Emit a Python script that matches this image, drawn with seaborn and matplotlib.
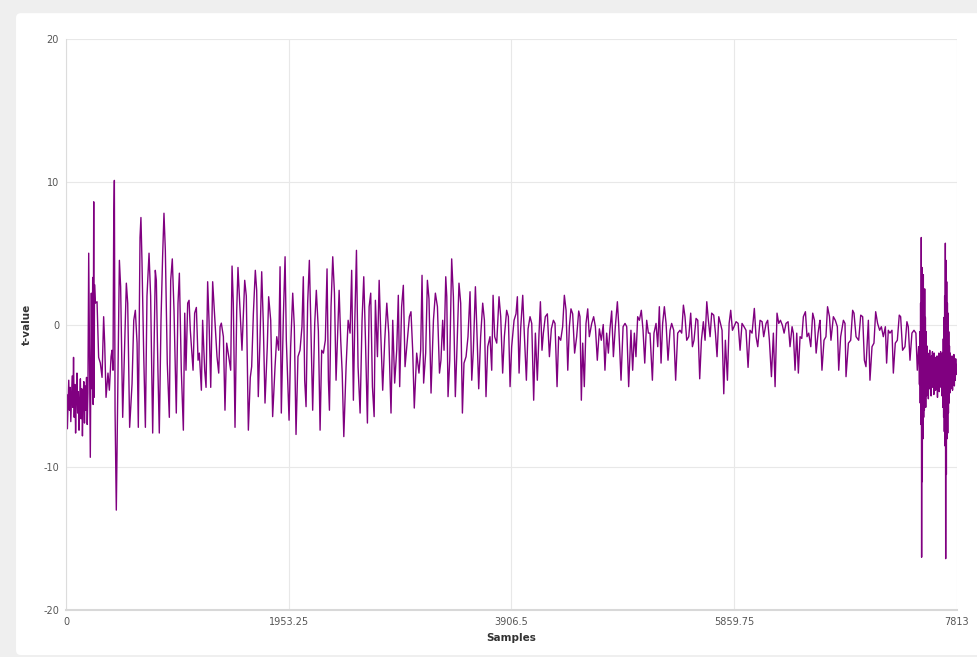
import numpy as np
import pandas as pd
import matplotlib
matplotlib.use("Agg")
import matplotlib.pyplot as plt
from matplotlib.patches import FancyBboxPatch
import seaborn as sns

# values, sample index -> t-value
onset_x = [0, 6, 12, 18, 24, 30, 36, 42, 48, 54, 60, 66, 72, 78, 84, 90, 96, 102, 108, 114,
           120, 126, 132, 138, 144, 150, 156, 162, 168, 174, 180, 186, 192,
           199, 213, 222, 228, 234, 238, 243, 246, 250, 257, 272, 286, 301, 316, 330, 339, 351,
           368, 380, 395, 403, 412, 418, 424, 430, 441, 447, 456, 468, 479, 497, 508, 529, 541,
           558, 579, 594, 608, 623, 634, 649, 657, 666, 681, 696, 710, 728, 742, 760, 783, 792,
           806, 818, 833, 847, 859, 871, 888, 906, 918, 932, 947, 967, 982, 994, 1011, 1029,
           1041, 1052, 1067, 1079, 1090, 1114, 1128, 1143, 1158, 1169, 1187, 1198, 1216, 1228,
           1242, 1254, 1269, 1286, 1304, 1324, 1339, 1351, 1362, 1380, 1394, 1409, 1427, 1444,
           1456, 1467, 1482, 1497, 1508, 1526, 1543, 1567, 1581, 1599, 1616]
onset_y = [-6.2, -4.9, -7.3, -5.5, -3.9, -6.0, -4.4, -6.8, -5.1, -3.6, -5.8, -2.3, -6.5, -4.2,
           -7.6, -5.0, -3.4, -6.2, -4.7, -7.4, -5.4, -3.8, -6.6, -4.5, -7.8, -5.2, -4.0, -6.9,
           -4.3, -6.0, -3.7, -7.0, -4.8,
           5.0, -9.3, 2.2, -4.5, 3.3, -5.6, 8.6, -5.1, 2.8, 1.5, 1.6, -2.3, -2.7, -3.7, 0.55,
           -1.3, -5.1, -3.4, -4.6, -2.25, -1.8, -3.2, 6.6, 10.1, -6.0, -13.0, -9.0, -3.2, 4.5,
           2.65, -6.5, -3.2, 2.9, 1.5, -7.2, -4.15, 0.3, 1.0, -1.3, -7.2, 6.1, 7.5, 4.5, -2.0,
           -7.2, 2.0, 5.0, 2.0, -7.6, 3.8, 3.1, -3.2, -7.6, 0.3, 4.75, 7.8, 5.2, -2.7, -6.5,
           3.1, 4.6, 1.0, -6.2, 1.5, 3.6, -3.2, -7.4, 0.8, -3.2, 1.5, 1.7, -0.4, -3.2, 0.8,
           1.2, -2.5, -2.0, -4.6, 0.3, -3.2, -4.4, 3.0, 0.3, -4.4, 3.0, 0.55, -2.25, -3.4,
           -0.15, 0.1, -0.85, -6.0, -1.3, -2.25, -3.2, 4.1, 1.5, -7.2, 1.0, 4.0, 1.0, -1.8,
           3.1, 2.0, -7.4, -3.7]

middle_x = [1628, 1643, 1660, 1672, 1686, 1701, 1716, 1730, 1745, 1765, 1777, 1795, 1812, 1833,
            1848, 1865, 1877, 1888, 1906, 1921, 1932, 1944, 1956, 1970, 1988, 2002, 2017, 2034,
            2052, 2069, 2081, 2093, 2105, 2119, 2134, 2146, 2163, 2181, 2195, 2213, 2228, 2242,
            2257, 2274, 2289, 2301, 2310, 2324, 2339, 2354, 2368, 2383, 2395, 2409, 2422, 2436,
            2456, 2474, 2491, 2505, 2520, 2532, 2547, 2561, 2579, 2596, 2611, 2626, 2643, 2658,
            2672, 2687, 2702, 2713, 2731, 2746, 2760, 2777, 2795, 2813, 2830, 2850, 2865, 2882,
            2900, 2914, 2926, 2943, 2958, 2973, 2993, 3011, 3025, 3040, 3054, 3075, 3095, 3110,
            3122, 3136, 3154, 3169, 3183, 3201, 3222, 3239, 3257, 3275,
            3288, 3303, 3315, 3330, 3339, 3350, 3365, 3382, 3397, 3414, 3426, 3446, 3461, 3476,
            3490, 3508, 3525, 3543, 3558, 3572, 3590, 3601, 3619, 3636, 3654, 3669, 3683, 3698,
            3718, 3733, 3745, 3759, 3777, 3797, 3812, 3829, 3844, 3864, 3879, 3894, 3908, 3929,
            3946, 3958, 3973, 3987, 4005, 4020, 4037, 4052, 4069, 4084, 4101, 4116, 4133, 4148,
            4160, 4174, 4186, 4203, 4221, 4239, 4256, 4274, 4288, 4306, 4320, 4338, 4355, 4370,
            4385, 4400, 4414, 4428, 4443, 4460, 4478, 4496, 4507, 4519, 4531, 4545, 4560, 4575,
            4589, 4610, 4627, 4642, 4659, 4677, 4694, 4711, 4726, 4741, 4756, 4770, 4785, 4800,
            4817, 4835, 4846, 4867, 4885, 4902, 4917, 4934,
            4954, 4969, 4984, 4998, 5013, 5028, 5045, 5060, 5075, 5092, 5107, 5121, 5142, 5156,
            5174, 5189, 5203, 5218, 5232, 5247, 5262, 5279, 5297, 5311, 5329, 5346, 5364, 5384,
            5399, 5414, 5428, 5443, 5461, 5478, 5493, 5507, 5525, 5540, 5557, 5572, 5589, 5604,
            5619, 5633, 5648, 5662, 5680, 5695, 5709, 5724, 5739, 5753, 5768, 5782, 5800, 5815,
            5829, 5844, 5858, 5876, 5894, 5911, 5928, 5946, 5963, 5981, 5998, 6016, 6036, 6051,
            6066, 6086, 6104, 6118, 6139, 6153, 6168, 6186, 6203, 6218, 6235, 6250, 6265, 6282,
            6297, 6314, 6332, 6349, 6367, 6378, 6393, 6408, 6422, 6437, 6452, 6466, 6484, 6498,
            6513, 6531, 6548, 6563, 6578, 6595, 6607]
middle_y = [-2.95, 0.78, 3.8, 2.4, -5.05, -1.1, 3.7, 0.08, -5.5, -1.55, 1.95, 0.3, -6.45, -2.95,
            -0.85, -1.8, 4.05, -6.2, 0.55, 4.75, -1.1, -3.9, -6.7, -1.55, 2.2, -0.15, -7.7,
            -2.25, -1.8, -0.15, 3.35, -3.9, -5.75, 1.5, 4.5, 0.3, -6.0, 0.08, 2.4, -0.45, -7.4,
            -1.8, -2.0, -1.1, 3.9, -3.9, -6.0, 1.25, 4.75, 2.2, -3.9, -0.45, 2.4, -1.1, -3.4,
            -7.85, -2.95, 0.3, -0.6, 3.8, -5.3, 0.08, 5.2, -2.95, -6.2, 0.3, 3.35, -1.1, -6.9,
            1.25, 2.2, -4.35, -6.45, 1.7, -2.25, 3.1, -0.6, -4.6, -1.1, 1.5, -0.6, -6.2, 0.3,
            -4.1, -1.8, 2.05, -4.35, 1.25, 2.75, -2.95, -1.1, 0.55, 0.9, -1.8, -5.85, -2.0,
            -3.4, -1.8, 3.45, -4.1, -2.0, 3.1, 1.8, -4.8, 0.3, 2.2, 1.25, -3.4,
            -2.5, 0.3, -1.8, 3.35, 1.95, -5.05, -2.5, 4.6, 1.95, -5.05, -2.25, 2.9, 1.5, -6.2,
            -2.7, -2.25, -0.85, 2.3, -3.9, -1.8, 2.65, 0.08, -4.5, -0.85, 1.5, 0.3, -5.05,
            -1.55, -0.85, -3.2, 2.05, -0.85, -1.3, 1.95, 0.55, -3.4, -0.85, 1.0, 0.55, -4.35,
            -1.55, 0.3, 0.75, 1.95, -3.4, -0.3, 2.05, -0.85, -3.9, -0.3, 0.55, 0.08, -5.3, -0.6,
            -3.9, -0.6, 1.6, -1.8, -0.6, 0.55, 0.75, -2.25, -0.3, 0.3, 0.08, -4.35, -0.85, -1.1,
            -0.15, 2.05, 1.0, -3.2, -0.15, 1.1, 0.75, -2.0, -0.85, 0.95, 0.55, -5.3, -1.3,
            -4.35, 0.08, 1.1, -0.85, 0.08, 0.55, -0.15, -2.5, -0.3, -1.1, 0.0, -3.2, -0.6, -2.0,
            -0.3, 0.95, -2.25, -0.15, 1.6, 0.08, -3.9, -0.15, 0.08, -0.15, -4.35,
            -0.4, -3.2, -0.6, -2.25, 0.55, 0.3, 1.0, -0.4, -2.7, 0.3, -0.6, -0.6, -3.9, -0.6,
            0.08, -1.55, 1.25, -2.7, 0.08, 1.25, 0.08, -2.5, -0.4, 0.08, -0.4, -3.9, -0.6, -0.4,
            -0.6, 1.36, 0.55, -1.1, -0.85, 0.8, -1.55, -1.1, 0.43, 0.3, -3.8, -1.1, 0.2, -1.1,
            1.6, 0.3, -0.85, 0.8, 0.66, -0.6, -2.25, 0.55, 0.08, -0.4, -4.85, -1.1, -3.9, 0.08,
            1.0, -0.4, -0.15, 0.2, 0.08, -1.8, 0.08, -0.15, -0.4, -3.0, -0.4, -0.6, 1.13, -0.85,
            -1.55, 0.3, 0.2, -0.85, 0.08, 0.3, -1.1, -3.65, -0.6, -4.35, 0.8, 0.08, 0.3, -0.05,
            -0.6, 0.08, 0.2, -1.55, -0.15, -0.6, -3.2, -0.6, -3.4, -0.85, -0.97, 0.55, 0.9,
            -0.85, -0.6, -1.55, 0.8, 0.3, -2.0, -0.6, 0.08]

ending_x = [6612, 6629, 6647, 6664, 6678, 6695, 6708, 6729, 6746, 6764, 6776, 6793, 6817, 6831,
            6840, 6861, 6881, 6898, 6910, 6928, 6951, 6969, 6986, 7001, 7015, 7036, 7050, 7068,
            7085, 7100, 7117, 7135, 7150, 7167, 7185, 7196, 7211, 7225, 7243, 7255, 7272, 7290,
            7307, 7319, 7336, 7357, 7374, 7386, 7401, 7418, 7436, 7453, 7465, 7477,
            7480, 7484, 7488, 7491, 7494, 7497, 7500, 7503, 7506, 7509, 7512, 7515, 7518, 7521,
            7524, 7527, 7530, 7533, 7536, 7539, 7542, 7546, 7550, 7554, 7558, 7562, 7566, 7570,
            7574, 7578, 7582, 7586, 7590, 7594, 7598, 7602, 7606, 7610, 7614, 7618, 7622, 7626,
            7630, 7634, 7638, 7642, 7646, 7650, 7654, 7658, 7662, 7666, 7670, 7674, 7678, 7682,
            7686, 7690, 7693, 7696, 7699, 7702, 7705, 7708, 7711, 7714, 7717, 7720, 7723, 7726,
            7729, 7732, 7735, 7738, 7741, 7744, 7747, 7750, 7754, 7758, 7762, 7766, 7770, 7774,
            7778, 7782, 7786, 7790, 7794, 7798, 7802, 7806, 7810, 7813]
ending_y = [0.3, -3.2, -1.1, -0.85, 1.25, 0.55, -1.1, 0.55, 0.3, -0.15, -3.2, -0.85, 0.3, 0.08,
            -3.65, -1.3, -1.1, 1.0, 0.8, -0.85, -1.1, 0.66, 0.55, -2.5, -2.95, 0.3, -3.9, -1.55,
            -1.3, 0.9, 0.08, -0.4, -0.15, -0.85, -0.15, -2.7, -0.4, -0.6, -0.4, -3.4, -1.3, -1.1,
            0.66, 0.55, -1.8, -1.55, 0.2, -0.15, -2.5, -0.6, -0.4, -0.6, -3.2, -1.55,
            -2.0, -4.2, -0.5, -5.5, 1.5, -7.0, 6.1, -16.3, 4.0, -11.0, 2.8, -8.0, 3.5, -6.5,
            1.2, -6.0, 2.5, -5.5, 0.5, -5.8, -0.5, -5.0, -1.5, -4.6, -2.0, -5.2, -2.4, -4.5,
            -1.8, -4.0, -2.5, -5.0, -2.2, -3.8, -1.9, -4.4, -2.6, -4.9, -2.0, -3.6, -2.3, -4.6,
            -2.8, -3.9, -2.2, -5.1, -2.6, -4.2, -2.0, -4.7, -2.9, -3.6, -1.9, -4.4, -2.5, -5.0,
            -2.0, -5.8, -1.0, -6.5, 0.5, -7.5, 2.0, -8.5, 5.7, -16.4, 4.5, -10.5, 3.0, -8.0,
            1.5, -7.6, 0.8, -6.2, -0.5, -5.5, -1.5, -4.8, -2.0, -4.5, -2.4, -4.0, -2.2, -4.6,
            -2.7, -3.8, -2.1, -4.3, -2.6, -3.9, -2.4, -3.5, -2.8, -3.1]

x_ticks = [0, 1953.25, 3906.5, 5859.75, 7813]
x_tick_labels = ["0", "1953.25", "3906.5", "5859.75", "7813"]
y_ticks = [-20, -10, 0, 10, 20]

df = pd.DataFrame({
    "Samples": onset_x + middle_x + ending_x,
    "t-value": onset_y + middle_y + ending_y,
})

sns.set_style("whitegrid")
plt.rcParams["axes.unicode_minus"] = False
fig = plt.figure(figsize=(9.78, 6.57), dpi=100, facecolor="#efefef")

# white card behind the chart
card = FancyBboxPatch((0.0164, 0.003), 1.0, 0.977, boxstyle="round,pad=0,rounding_size=0.005",
                      mutation_aspect=978 / 657, transform=fig.transFigure,
                      facecolor="white", edgecolor="none", zorder=-10)
fig.patches.append(card)

ax = fig.add_axes([0.0675, 0.0715, 0.911, 0.869])
ax.set_zorder(5)
ax.set_facecolor("white")
sns.lineplot(data=df, x="Samples", y="t-value", ax=ax, color="#800080",
             linewidth=1.0, sort=False, estimator=None)

ax.set_xlim(0, 7813)
ax.set_ylim(-20, 20)
ax.set_xticks(x_ticks)
ax.set_xticklabels(x_tick_labels)
ax.set_yticks(y_ticks)
ax.grid(True, color="#e8e8e8", linewidth=0.8)
ax.tick_params(axis="both", labelsize=7, colors="#555555", length=3, width=0.6, pad=2)
ax.tick_params(axis="both", color="#d0d0d0")

for side in ["top", "right"]:
    ax.spines[side].set_visible(False)
ax.spines["left"].set_color("#dcdcdc")
ax.spines["left"].set_linewidth(0.8)
ax.spines["bottom"].set_color("#d8d8d8")
ax.spines["bottom"].set_linewidth(1.5)

ax.set_xlabel("Samples", fontsize=7.5, fontweight="bold", color="#333333", labelpad=4)
ax.set_ylabel("t-value", fontsize=7.5, fontweight="bold", color="#333333", labelpad=8)

fig.savefig("out.png", dpi=100, facecolor=fig.get_facecolor())
